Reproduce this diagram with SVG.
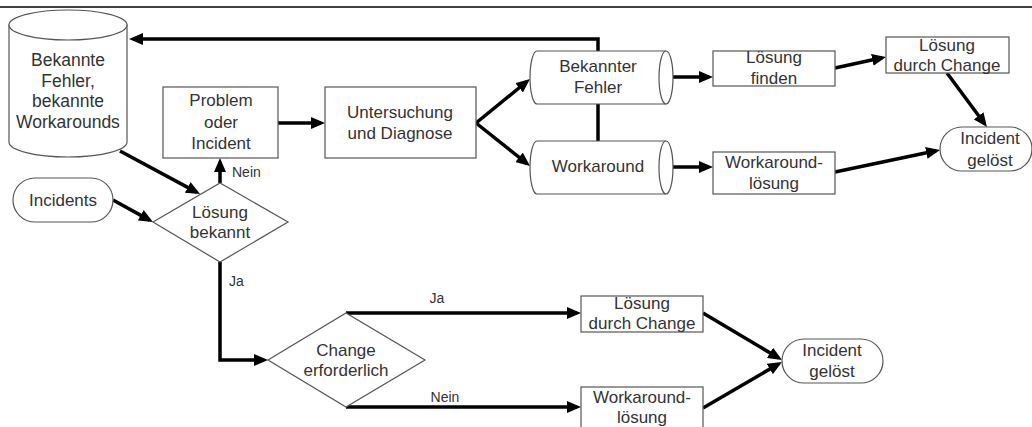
<svg xmlns="http://www.w3.org/2000/svg" width="1032" height="427" viewBox="0 0 1032 427">
  <style>
    .shape { fill: #ffffff; stroke: #555555; stroke-width: 1.2; }
    .edge { fill: none; stroke: #000000; stroke-width: 3.5; }
    .edge-arrow { marker-end: url(#arrow); }
    .lbl { font-family: "Liberation Sans", Arial, sans-serif; font-size: 17px; fill: #333333; text-anchor: middle; }
    .big { font-size: 17.5px; }
    .small { font-family: "Liberation Sans", Arial, sans-serif; font-size: 14px; fill: #333333; }
  </style>
  <defs>
    <marker id="arrow" viewBox="0 0 14 12" refX="10" refY="6" markerWidth="14" markerHeight="12" markerUnits="userSpaceOnUse" orient="auto">
      <path d="M0,0 L14,6 L0,12 Z" fill="#000000"/>
    </marker>
  </defs>

  <rect width="1032" height="427" fill="#ffffff"/>
  <line x1="0" y1="7" x2="1032" y2="7" stroke="#000000" stroke-width="1.5"/>

  <!-- connectors -->
  <g id="connectors">
    <path class="edge edge-arrow" d="M598,51 V39 H133"/>
    <path class="edge" d="M598,104 V141"/>
    <path class="edge edge-arrow" d="M120,151 L196.5,192.1"/>
    <path class="edge edge-arrow" d="M113,200 L149.5,220.1"/>
    <path class="edge edge-arrow" d="M220,183 V162"/>
    <path class="edge edge-arrow" d="M278,123 H321"/>
    <path class="edge edge-arrow" d="M476,123 L526.9,81.5"/>
    <path class="edge edge-arrow" d="M476,123 L526.9,163.5"/>
    <path class="edge edge-arrow" d="M666,77 H709"/>
    <path class="edge edge-arrow" d="M672,167 H709"/>
    <path class="edge edge-arrow" d="M835,68 L882.1,57.8"/>
    <path class="edge edge-arrow" d="M947,73 L984.6,123.8"/>
    <path class="edge edge-arrow" d="M835,172 L936.1,150.8"/>
    <path class="edge edge-arrow" d="M220,262 V360 H264"/>
    <path class="edge edge-arrow" d="M346,313 H577"/>
    <path class="edge edge-arrow" d="M346,407 H577"/>
    <path class="edge edge-arrow" d="M703,313 L778.6,358"/>
    <path class="edge edge-arrow" d="M703,408 L778.5,364"/>
    <text class="small" x="232" y="177">Nein</text>
    <text class="small" x="229" y="286">Ja</text>
    <text class="small" x="437" y="303" text-anchor="middle">Ja</text>
    <text class="small" x="445" y="402" text-anchor="middle">Nein</text>
  </g>

  <!-- data store -->
  <g id="known-errors-db">
    <path class="shape" d="M9,25 V142 A59,15 0 0 0 127,142 V25 Z"/>
    <ellipse class="shape" cx="68" cy="25" rx="59" ry="15"/>
    <text class="lbl big" x="68" y="66">Bekannte</text>
    <text class="lbl big" x="68" y="87">Fehler,</text>
    <text class="lbl big" x="68" y="107">bekannte</text>
    <text class="lbl big" x="68" y="128">Workarounds</text>
  </g>

  <g id="incidents">
    <rect class="shape" x="13" y="178" width="100" height="44" rx="22" ry="22"/>
    <text class="lbl" x="63" y="206">Incidents</text>
  </g>

  <g id="loesung-bekannt">
    <polygon class="shape" points="153,222 220,183 288,222 220,262"/>
    <text class="lbl" x="220" y="218">Lösung</text>
    <text class="lbl" x="220" y="238">bekannt</text>
  </g>

  <g id="problem-incident">
    <rect class="shape" x="163" y="87" width="115" height="71"/>
    <text class="lbl" x="221" y="106">Problem</text>
    <text class="lbl" x="221" y="128">oder</text>
    <text class="lbl" x="221" y="149">Incident</text>
  </g>

  <g id="untersuchung">
    <rect class="shape" x="325" y="87" width="151" height="71"/>
    <text class="lbl" x="400" y="118">Untersuchung</text>
    <text class="lbl" x="400" y="139">und Diagnose</text>
  </g>

  <g id="bekannter-fehler">
    <path class="shape" d="M537,51 H666 A7,26.5 0 0 1 666,104 H537 A7,26.5 0 0 1 537,51 Z"/>
    <path class="shape" fill="none" d="M666,51 A7,26.5 0 0 0 666,104"/>
    <text class="lbl" x="598" y="72">Bekannter</text>
    <text class="lbl" x="598" y="93">Fehler</text>
  </g>

  <g id="workaround">
    <path class="shape" d="M537,141 H666 A7,26.5 0 0 1 666,194 H537 A7,26.5 0 0 1 537,141 Z"/>
    <path class="shape" fill="none" d="M666,141 A7,26.5 0 0 0 666,194"/>
    <text class="lbl" x="598" y="172">Workaround</text>
  </g>

  <g id="loesung-finden">
    <rect class="shape" x="713" y="51" width="122" height="35"/>
    <text class="lbl" x="774" y="63">Lösung</text>
    <text class="lbl" x="774" y="84">finden</text>
  </g>

  <g id="workaroundloesung-1">
    <rect class="shape" x="713" y="152" width="122" height="42"/>
    <text class="lbl" x="774" y="168">Workaround-</text>
    <text class="lbl" x="774" y="189">lösung</text>
  </g>

  <g id="loesung-change-1">
    <rect class="shape" x="886" y="37" width="123" height="36"/>
    <text class="lbl" x="947" y="51">Lösung</text>
    <text class="lbl" x="947" y="71">durch Change</text>
  </g>

  <g id="incident-geloest-1">
    <rect class="shape" x="940" y="127" width="92" height="44" rx="22" ry="22"/>
    <text class="lbl" x="990" y="144">Incident</text>
    <text class="lbl" x="990" y="166">gelöst</text>
  </g>

  <g id="change-erforderlich">
    <polygon class="shape" points="268,360 346,313 425,360 346,407"/>
    <text class="lbl" x="346" y="356">Change</text>
    <text class="lbl" x="346" y="376">erforderlich</text>
  </g>

  <g id="loesung-change-2">
    <rect class="shape" x="581" y="296" width="122" height="36"/>
    <text class="lbl" x="642" y="309">Lösung</text>
    <text class="lbl" x="642" y="329">durch Change</text>
  </g>

  <g id="workaroundloesung-2">
    <rect class="shape" x="581" y="387" width="122" height="45"/>
    <text class="lbl" x="642" y="403">Workaround-</text>
    <text class="lbl" x="642" y="423">lösung</text>
  </g>

  <g id="incident-geloest-2">
    <rect class="shape" x="782" y="339" width="101" height="44" rx="22" ry="22"/>
    <text class="lbl" x="832" y="356">Incident</text>
    <text class="lbl" x="832" y="377">gelöst</text>
  </g>
</svg>
